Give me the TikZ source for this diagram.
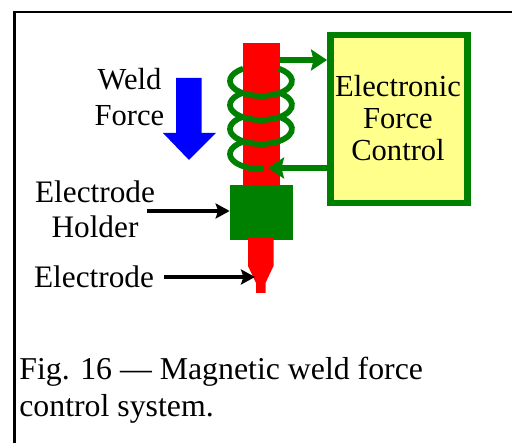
\documentclass[tikz,border=0pt]{standalone}
\usepackage{xcolor}
\usepackage{tikz}
\usepackage{fontspec}
\setmainfont{Liberation Serif}
\usetikzlibrary{calc}
\usetikzlibrary{arrows.meta}
\definecolor{wiregreen}{RGB}{0,128,0}
\definecolor{boxyellow}{RGB}{255,255,140}
\tikzset{
    frameline/.style={line width=0.048cm, black},
    coilwire/.style={line width=0.115cm, wiregreen},
    greenarrow/.style={line width=0.125cm, wiregreen, -{Stealth[length=0.32cm, width=0.42cm, inset=0.05cm]}},
    blackarrow/.style={line width=0.080cm, black, -{Stealth[length=0.28cm, width=0.30cm, inset=0.05cm]}},
    labeltext/.style={inner sep=0pt, align=center, font=\fontsize{17.8}{20}\selectfont},
}
\begin{document}
\begin{tikzpicture}
            \useasboundingbox (0.000000,0.000000) rectangle (10.240000,8.860000);
            
            % Drawing the frame
            \draw [frameline] (0.290000,0.000000) -- (0.290000,8.620000) -- (10.240000,8.620000);%
            
            % Drawing the red bar
            \node [fill=red, inner sep=0pt, minimum width=0.740000cm, minimum height=2.940000cm] (bar) at (5.230000,6.530000) {};%
            
            % Drawing the coil turns
            \draw [coilwire] (4.864000,7.486000) arc (125:415:0.620000 and 0.300000);%
            \draw [coilwire] (4.864000,7.006000) arc (125:415:0.620000 and 0.300000);%
            \draw [coilwire] (4.864000,6.526000) arc (125:415:0.620000 and 0.300000);%
            \draw [coilwire] (4.864000,6.026000) arc (125:275:0.620000 and 0.300000);%
            
            % Drawing the force control box
            \node [draw=wiregreen, line width=0.130cm, fill=boxyellow, inner sep=0pt, minimum width=2.740000cm, minimum height=3.360000cm] (control) at (7.976000,6.480000) {};%
            \node [inner sep=0pt, align=center, font=\fontsize{17.4}{18.2}\selectfont] (controltext) at (7.960000,6.500000) {Electronic\\Force\\Control};%
            
            % Drawing the coil leads
            \coordinate (coilout) at (5.600000,7.660000);%
            \coordinate (coilin) at (5.360000,5.500000);%
            \draw [greenarrow] (coilout) -- (coilout -| control.west);%
            \draw [greenarrow] (coilin -| control.west) -- (coilin);%
            
            % Drawing the holder
            \node [fill=wiregreen, inner sep=0pt, minimum width=1.260000cm, minimum height=1.100000cm] (holder) at (5.230000,4.610000) {};%
            
            % Drawing the electrode tip
            \fill [red] (4.960000,4.100000) -- (5.470000,4.100000) -- (5.470000,3.540000) -- (5.310000,3.200000) -- (5.310000,3.000000) -- (5.120000,3.000000) -- (5.120000,3.200000) -- (4.960000,3.540000) -- cycle;%
            
            % Drawing the blue force arrow
            \fill [blue] (3.520000,7.300000) -- (4.034000,7.300000) -- (4.034000,6.200000) -- (4.320000,6.200000) -- (3.780000,5.660000) -- (3.260000,6.200000) -- (3.520000,6.200000) -- cycle;%
            
            % Marking the labels
            \node [labeltext, font=\fontsize{17.4}{20.4}\selectfont] (weldforce) at (2.590000,6.920000) {Weld\\Force};%
            \node [labeltext] (holderlabel) at (1.900000,4.670000) {Electrode\\Holder};%
            \node [labeltext] (tiplabel) at (1.880000,3.320000) {Electrode};%
            
            % Drawing the label arrows
            \coordinate (holdertail) at (2.940000,4.640000);%
            \coordinate (tiptail) at (3.280000,3.320000);%
            \coordinate (tiphead) at (5.100000,3.320000);%
            \draw [blackarrow] (holdertail) -- (holdertail -| holder.west);%
            \draw [blackarrow] (tiptail) -- (tiphead);%
            
            % Marking the caption
            \node [anchor=west, inner sep=0pt, align=left, font=\fontsize{18.1}{21}\selectfont] (caption) at (0.380000,1.050000) {Fig. 16 — Magnetic weld force\\control system.};%
\end{tikzpicture}
\end{document}
